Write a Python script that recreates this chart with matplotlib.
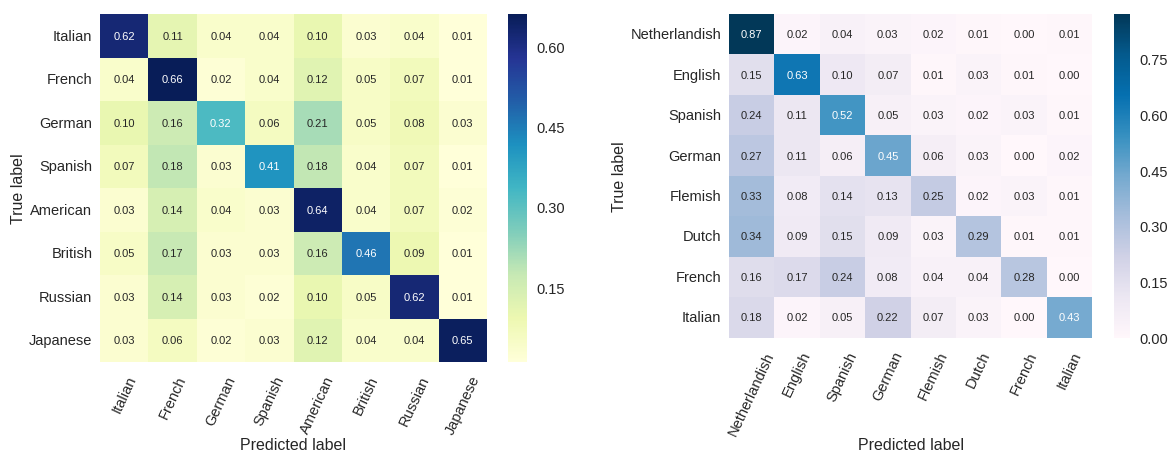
import numpy as np
import matplotlib
matplotlib.use("Agg")
import matplotlib.pyplot as plt
import seaborn as sns
from matplotlib.ticker import FixedLocator, FormatStrFormatter

sns.set_style("white")
plt.rcParams['font.family'] = ['Liberation Sans', 'DejaVu Sans']
plt.rcParams['text.color'] = '.15'
plt.rcParams['axes.labelcolor'] = '.15'
plt.rcParams['xtick.color'] = '.15'
plt.rcParams['ytick.color'] = '.15'

labels_left = ["Italian", "French", "German", "Spanish", "American", "British", "Russian", "Japanese"]
cm_left = [
    [0.62, 0.11, 0.04, 0.04, 0.10, 0.03, 0.04, 0.01],
    [0.04, 0.66, 0.02, 0.04, 0.12, 0.05, 0.07, 0.01],
    [0.10, 0.16, 0.32, 0.06, 0.21, 0.05, 0.08, 0.03],
    [0.07, 0.18, 0.03, 0.41, 0.18, 0.04, 0.07, 0.01],
    [0.03, 0.14, 0.04, 0.03, 0.64, 0.04, 0.07, 0.02],
    [0.05, 0.17, 0.03, 0.03, 0.16, 0.46, 0.09, 0.01],
    [0.03, 0.14, 0.03, 0.02, 0.10, 0.05, 0.62, 0.01],
    [0.03, 0.06, 0.02, 0.03, 0.12, 0.04, 0.04, 0.65],
]
cbar_ticks_left = [0.15, 0.30, 0.45, 0.60]

labels_right = ["Netherlandish", "English", "Spanish", "German", "Flemish", "Dutch", "French", "Italian"]
cm_right = [
    [0.87, 0.02, 0.04, 0.03, 0.02, 0.01, 0.00, 0.01],
    [0.15, 0.63, 0.10, 0.07, 0.01, 0.03, 0.01, 0.00],
    [0.24, 0.11, 0.52, 0.05, 0.03, 0.02, 0.03, 0.01],
    [0.27, 0.11, 0.06, 0.45, 0.06, 0.03, 0.00, 0.02],
    [0.33, 0.08, 0.14, 0.13, 0.25, 0.02, 0.03, 0.01],
    [0.34, 0.09, 0.15, 0.09, 0.03, 0.29, 0.01, 0.01],
    [0.16, 0.17, 0.24, 0.08, 0.04, 0.04, 0.28, 0.00],
    [0.18, 0.02, 0.05, 0.22, 0.07, 0.03, 0.00, 0.43],
]
cbar_ticks_right = [0.00, 0.15, 0.30, 0.45, 0.60, 0.75]

W, H = 1170, 452
fig = plt.figure(figsize=(W / 100, H / 100), dpi=100)


def box(x0, y0, x1, y1):
    return [x0 / W, 1 - y1 / H, (x1 - x0) / W, (y1 - y0) / H]


ax1 = fig.add_axes(box(100, 15, 487, 363))
cax1 = fig.add_axes(box(508, 15, 527, 363))
ax2 = fig.add_axes(box(729, 15, 1092, 338.5))
cax2 = fig.add_axes(box(1114, 15, 1130, 338.5))


def draw(ax, cax, data, labels, cmap, ticks, xlab_y, ylab_x):
    sns.heatmap(np.array(data), ax=ax, cbar_ax=cax, cmap=cmap, annot=True, fmt=".2f",
                annot_kws={"fontsize": 8}, xticklabels=labels, yticklabels=labels)
    ax.tick_params(axis='both', length=0, labelsize=10.5)
    ax.tick_params(axis='x', pad=8)
    ax.tick_params(axis='y', pad=5.5)
    ax.set_xticklabels(labels, rotation=65, ha='center')
    ax.set_yticklabels(labels, rotation=0)
    ax.set_xlabel("Predicted label", fontsize=11.5, va='center')
    ax.set_ylabel("True label", fontsize=11.5, va='center')
    ax.xaxis.set_label_coords(0.5, xlab_y)
    ax.yaxis.set_label_coords(ylab_x, 0.5)
    cax.yaxis.set_major_locator(FixedLocator(ticks))
    cax.yaxis.set_major_formatter(FormatStrFormatter("%.2f"))
    cax.tick_params(length=0, labelsize=10.5, pad=6.5)


draw(ax1, cax1, cm_left, labels_left, "YlGnBu", cbar_ticks_left,
     (363 - 446) / 348, (18 - 100) / 387)
draw(ax2, cax2, cm_right, labels_right, "PuBu", cbar_ticks_right,
     (338.5 - 446) / 323.5, (620 - 729) / 363)

fig.savefig("out.png", dpi=100)
